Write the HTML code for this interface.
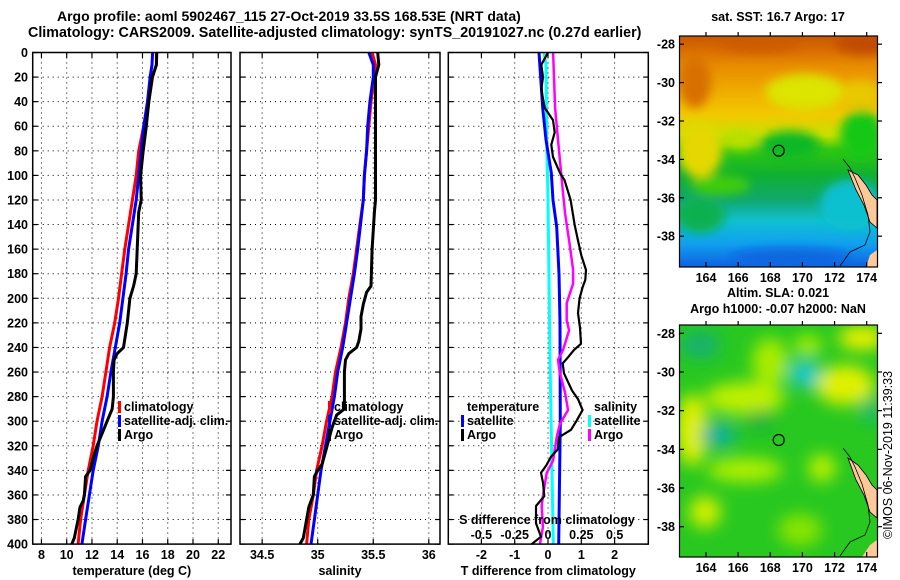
<!DOCTYPE html>
<html><head><meta charset="utf-8">
<style>
html,body{margin:0;padding:0;background:#fff;}
svg{display:block;font-family:"Liberation Sans",Arial,sans-serif;font-weight:bold;}
text{font-size:12.5px;fill:#000;}
</style></head>
<body>
<svg id="fig" width="900" height="580" viewBox="0 0 900 580" xmlns="http://www.w3.org/2000/svg">
<defs>
  <filter id="blur1" x="-30%" y="-30%" width="160%" height="160%"><feGaussianBlur stdDeviation="5"/></filter>
  <filter id="blur2" x="-40%" y="-40%" width="180%" height="180%"><feGaussianBlur stdDeviation="8"/></filter>
  <clipPath id="clipM1"><rect x="679.5" y="36" width="198" height="231"/></clipPath>
  <clipPath id="clipM2"><rect x="679.5" y="325" width="198" height="232"/></clipPath>
  <linearGradient id="sstGrad" x1="0" y1="0" x2="0" y2="1">
    <stop offset="0" stop-color="#c85800"/>
    <stop offset="0.06" stop-color="#d86c00"/>
    <stop offset="0.125" stop-color="#e88a00"/>
    <stop offset="0.25" stop-color="#f0b000"/>
    <stop offset="0.34" stop-color="#f2c800"/>
    <stop offset="0.43" stop-color="#c8e000"/>
    <stop offset="0.49" stop-color="#30c810"/>
    <stop offset="0.6" stop-color="#10b030"/>
    <stop offset="0.71" stop-color="#10a870"/>
    <stop offset="0.8" stop-color="#10c0d0"/>
    <stop offset="0.9" stop-color="#10a0f0"/>
    <stop offset="1" stop-color="#1060e0"/>
  </linearGradient>
</defs>

<text x="57" y="21" style="font-size:14px">Argo profile: aoml 5902467_115 27-Oct-2019 33.5S 168.53E (NRT data)</text>
<text x="28" y="37" style="font-size:14.3px">Climatology: CARS2009. Satellite-adjusted climatology: synTS_20191027.nc (0.27d earlier)</text>

<g id="panels"></g>

<!-- Map 1 SST -->
<g>
  <text x="778" y="21" text-anchor="middle">sat. SST: 16.7 Argo: 17</text>
  <g clip-path="url(#clipM1)">
    <rect x="679.5" y="36" width="198" height="231" fill="url(#sstGrad)"/>
    <g filter="url(#blur1)">
      <ellipse cx="695" cy="82" rx="16" ry="26" fill="#d87000"/>
      <ellipse cx="865" cy="44" rx="30" ry="10" fill="#c04c00"/>
      <ellipse cx="760" cy="44" rx="40" ry="8" fill="#cc5c00"/>
      <ellipse cx="805" cy="92" rx="40" ry="18" fill="#dce400"/>
      <ellipse cx="860" cy="95" rx="20" ry="14" fill="#e8c800"/>
      <ellipse cx="862" cy="135" rx="22" ry="25" fill="#18c818"/>
      <ellipse cx="700" cy="150" rx="22" ry="28" fill="#e4d800"/>
      <ellipse cx="740" cy="140" rx="18" ry="10" fill="#b8e000"/>
      <ellipse cx="790" cy="145" rx="30" ry="14" fill="#10b828"/>
      <ellipse cx="720" cy="185" rx="30" ry="10" fill="#40cc10"/>
      <ellipse cx="700" cy="215" rx="25" ry="18" fill="#10b050"/>
      <ellipse cx="850" cy="205" rx="30" ry="25" fill="#10c0d0"/>
      <ellipse cx="790" cy="258" rx="60" ry="10" fill="#1068e0"/>
    </g>
    <polygon points="848,170 858,175 866,185 872,195 877,200 877,228 870,222 864,205 856,190" fill="#ffc898" stroke="#000" stroke-width="0.8"/>
    <polygon points="870,255 877,250 877,267 866,267" fill="#ffc898"/>
    <polyline points="843,159 850,168 855,178 862,195 868,215 870,232 865,245 850,252 840,266" fill="none" stroke="#000" stroke-width="0.8"/>
    <circle cx="778.7" cy="150.7" r="5.5" fill="none" stroke="#000" stroke-width="1.2"/>
  </g>
  <rect x="679.5" y="36" width="198" height="231" fill="none" stroke="#000" stroke-width="1.2"/>
  <g id="map1axes"></g>
</g>

<!-- Map 2 SLA -->
<g>
  <text x="778" y="297" text-anchor="middle">Altim. SLA: 0.021</text>
  <text x="778" y="313" text-anchor="middle">Argo h1000: -0.07 h2000: NaN</text>
  <g clip-path="url(#clipM2)">
    <rect x="679.5" y="325" width="198" height="232" fill="#28c820"/>
    <g filter="url(#blur2)">
      <ellipse cx="692" cy="430" rx="16" ry="36" fill="#e0f000"/>
      <ellipse cx="745" cy="398" rx="40" ry="16" fill="#c0f000"/>
      <ellipse cx="770" cy="362" rx="18" ry="24" fill="#a8ec00"/>
      <ellipse cx="845" cy="385" rx="30" ry="20" fill="#e0f000"/>
      <ellipse cx="862" cy="338" rx="24" ry="12" fill="#ecf000"/>
      <ellipse cx="745" cy="470" rx="38" ry="12" fill="#b0f000"/>
      <ellipse cx="705" cy="512" rx="16" ry="16" fill="#d0f000"/>
      <ellipse cx="808" cy="345" rx="14" ry="10" fill="#a8f000"/>
      <ellipse cx="822" cy="468" rx="14" ry="14" fill="#b8f000"/>
      <ellipse cx="800" cy="530" rx="22" ry="16" fill="#88e400"/>
      <ellipse cx="805" cy="374" rx="16" ry="14" fill="#10c8c8"/>
      <ellipse cx="718" cy="435" rx="18" ry="12" fill="#10b0a0"/>
      <ellipse cx="700" cy="345" rx="20" ry="14" fill="#18b070"/>
      <ellipse cx="870" cy="410" rx="8" ry="14" fill="#18b880"/>
      <ellipse cx="760" cy="420" rx="14" ry="10" fill="#18b040"/>
    </g>
    <polygon points="848,458 858,465 866,475 872,485 877,490 877,518 870,512 864,495 856,480" fill="#ffc898" stroke="#000" stroke-width="0.8"/>
    <polygon points="870,545 877,540 877,557 862,557" fill="#ffc898"/>
    <polyline points="843,448 850,457 855,467 862,484 868,505 870,522 865,535 850,542 840,556" fill="none" stroke="#000" stroke-width="0.8"/>
    <circle cx="778.7" cy="440" r="5.5" fill="none" stroke="#000" stroke-width="1.2"/>
  </g>
  <rect x="679.5" y="325" width="198" height="232" fill="none" stroke="#000" stroke-width="1.2"/>
  <g id="map2axes"></g>
</g>
<text transform="translate(892,455) rotate(-90)" text-anchor="middle" style="font-weight:normal;font-size:12.5px">©IMOS 06-Nov-2019 11:39:33</text>
</svg>

<script>
const depthTicks = [0,20,40,60,80,100,120,140,160,180,200,220,240,260,280,300,320,340,360,380,400];
const tempTicks = [8,10,12,14,16,18,20,22];
const salTicks = [34.5,35,35.5,36];
const tdiffTicks = [-2,-1,0,1,2];
const sdiffTicks = [-0.5,-0.25,0,0.25,0.5];
const sdiffTickLabels = ["-0.5","-0.25","0","0.25","0.5"];

const climTDepth = [0,10,20,40,60,80,100,120,140,160,180,200,220,240,260,280,300,320,340,360,380,400];
const climT = [17.1,17.1,16.8,16.5,16.1,15.7,15.5,15.2,14.9,14.6,14.35,14.1,13.8,13.4,13.1,12.8,12.4,12.1,11.7,11.4,11.1,10.9];
const satTDepth = [0,10,20,40,60,80,100,120,140,160,180,200,220,240,260,280,300,320,340,360,380,400];
const satT = [16.8,16.75,16.6,16.4,16.1,15.9,15.7,15.5,15.2,14.9,14.7,14.45,14.2,13.85,13.5,13.2,12.8,12.5,12.1,11.8,11.5,11.2];
const argoTDepth = [0,10,20,40,60,80,100,120,130,180,190,200,220,240,245,250,260,280,290,300,310,320,330,340,345,360,365,370,380,395,400];
const argoT = [17.13,17.1,16.77,16.5,16.3,16.06,15.85,15.9,15.7,15.5,15.3,15.0,14.8,14.5,14.0,13.75,13.7,13.7,13.6,13.2,12.8,12.4,12.1,11.85,11.5,11.4,11.3,11.05,10.9,10.6,10.4];

const climSDepth = [0,10,20,40,60,80,100,120,140,160,180,200,220,240,260,280,300,320,340,360,380,400];
const climS = [35.49,35.52,35.51,35.48,35.46,35.44,35.42,35.41,35.38,35.35,35.32,35.28,35.25,35.21,35.16,35.13,35.08,35.04,34.99,34.96,34.92,34.9];
const satSDepth = [0,10,20,40,60,80,100,120,140,160,180,200,220,240,260,280,300,320,340,360,380,400];
const satS = [35.46,35.5,35.5,35.47,35.45,35.44,35.42,35.41,35.385,35.36,35.33,35.295,35.26,35.225,35.18,35.15,35.11,35.07,35.03,35.0,34.97,34.94];
const argoSDepth = [0,10,20,100,120,130,160,190,195,205,215,225,235,240,245,250,260,290,295,305,315,325,335,340,345,360,370,380,395,400];
const argoS = [35.54,35.55,35.52,35.52,35.52,35.51,35.49,35.48,35.44,35.41,35.39,35.39,35.37,35.35,35.28,35.25,35.24,35.24,35.17,35.13,35.1,35.07,35.04,35.0,34.97,34.96,34.92,34.9,34.87,34.84];

const satTdDepth = [0,45,71,98,120,142,180,220,300,400];
const satTd = [-0.27,-0.16,-0.06,0.1,0.15,0.26,0.33,0.36,0.37,0.32];
const argoTdDepth = [0,10,20,30,45,55,65,75,85,98,104,120,140,153,165,177,185,191,200,212,224,237,242,248,253,261,275,282,291,300,307,313,323,329,336,342,350,361,369,383,394,400];
const argoTd = [0,-0.2,-0.15,-0.2,-0.1,0.15,0.2,0.1,0.15,0.36,0.5,0.68,0.8,0.9,1.0,1.14,1.12,1.04,0.95,0.9,0.96,0.99,0.78,0.6,0.44,0.48,0.72,0.9,1.04,0.85,0.69,0.33,0.29,0.09,-0.05,-0.21,-0.15,-0.11,-0.36,-0.36,-0.21,-0.49];
const satSdDepth = [0,10,71,120,250,400];
const satSd = [-0.03,-0.015,-0.01,0.0,0.015,0.04];
const argoSdDepth = [0,45,71,115,131,158,177,188,204,218,226,242,250,261,277,291,302,313,332,342,361,369,386,400];
const argoSd = [0.038,0.053,0.075,0.113,0.128,0.165,0.188,0.188,0.14,0.14,0.158,0.113,0.075,0.09,0.128,0.15,0.09,0.065,0.038,-0.01,-0.038,-0.047,-0.038,-0.06];

const lonTicks = [164,166,168,170,172,174];
const latTicks = [-28,-30,-32,-34,-36,-38];

const NS = "http://www.w3.org/2000/svg";
function mk(tag, attrs, parent){ const e=document.createElementNS(NS,tag); for(const k in attrs) e.setAttribute(k,attrs[k]); parent.appendChild(e); return e; }

const TOP=52.5, PXM=1.229;
const yD = d => TOP + d*PXM;
const xT = t => 66.7 + (t-10)*12.63;
const xS = s => 317.7 + (s-35)*111.1;
const xTd = t => 548 + t*33.3;
const xSd = s => 548 + s*133.3;

const panels = document.getElementById('panels');
const panelDefs = [
  {name:'temperature-panel', x0:32.7, x1:231, ticks:tempTicks, sx:xT, title:'temperature (deg C)'},
  {name:'salinity-panel', x0:240, x1:440, ticks:salTicks, sx:xS, title:'salinity'},
  {name:'difference-panel', x0:448.3, x1:648.3, ticks:tdiffTicks, sx:xTd, title:'T difference from climatology'}
];

function stepPath(depths, vals, sx){
  let d='';
  for(let i=0;i<depths.length;i++){
    d += (i?'L':'M') + sx(vals[i]).toFixed(1) + ',' + yD(depths[i]).toFixed(1);
  }
  return d;
}

panelDefs.forEach((p, pi) => {
  const g = mk('g',{},panels);
  
  
  const y0=yD(0), y1=yD(400);
  const grid = mk('g',{stroke:'#000','stroke-width':1,'stroke-dasharray':'1,4'},g);
  
  
  depthTicks.forEach(d => { if(d>0 && d<400) mk('line',{x1:p.x0,x2:p.x1,y1:yD(d),y2:yD(d)},grid); });
  p.ticks.forEach(t => mk('line',{x1:p.sx(t),x2:p.sx(t),y1:y0,y2:y1},grid));
  const tk = mk('g',{stroke:'#000','stroke-width':1.2},g);
  depthTicks.forEach(d => { mk('line',{x1:p.x0,x2:p.x0+5,y1:yD(d),y2:yD(d)},tk); mk('line',{x1:p.x1-5,x2:p.x1,y1:yD(d),y2:yD(d)},tk); });
  p.ticks.forEach(t => { mk('line',{x1:p.sx(t),x2:p.sx(t),y1:y1,y2:y1-5},tk); mk('line',{x1:p.sx(t),x2:p.sx(t),y1:y0,y2:y0+5},tk); });
  p.ticks.forEach(t => {
    const tx = mk('text',{x:p.sx(t),y:559,'text-anchor':'middle'},g);
    tx.textContent = String(t);
    
    
  });
  const ti = mk('text',{x:(p.x0+p.x1)/2,y:575,'text-anchor':'middle'},g);
  ti.textContent = p.title;
  
  
  if(pi===0){
    depthTicks.forEach(d => {
      const tx = mk('text',{x:28,y:yD(d)+4.5,'text-anchor':'end'},g);
      tx.textContent = String(d);
      
      
    });
  }
  p.g = g;
});

function series(g, depths, vals, sx, color, w, name){
  const el = mk('path',{d:stepPath(depths,vals,sx),fill:'none',stroke:color,'stroke-width':w,'stroke-linejoin':'round'},g);
  
  
}
const g1=panelDefs[0].g, g2=panelDefs[1].g, g3=panelDefs[2].g;
series(g1, climTDepth, climT, xT, '#ff0000', 3, 'climatology-temperature-line');
series(g1, satTDepth, satT, xT, '#0000ff', 3, 'satellite-temperature-line');
series(g1, argoTDepth, argoT, xT, '#000000', 3, 'argo-temperature-line');
series(g2, climSDepth, climS, xS, '#ff0000', 3, 'climatology-salinity-line');
series(g2, satSDepth, satS, xS, '#0000ff', 3, 'satellite-salinity-line');
series(g2, argoSDepth, argoS, xS, '#000000', 3, 'argo-salinity-line');
series(g3, satSdDepth, satSd, xSd, '#00ffff', 3, 'satellite-salinity-diff-line');
series(g3, satTdDepth, satTd, xTd, '#0000ff', 3, 'satellite-temperature-diff-line');
series(g3, argoSdDepth, argoSd, xSd, '#ff00ff', 2.5, 'argo-salinity-diff-line');
series(g3, argoTdDepth, argoTd, xTd, '#000000', 2.2, 'argo-temperature-diff-line');

const sl = mk('text',{x:547,y:524,'text-anchor':'middle'},g3);
sl.textContent = 'S difference from climatology';


sdiffTicks.forEach((s,i) => {
  const t = mk('text',{x:xSd(s),y:539,'text-anchor':'middle'},g3);
  t.textContent = sdiffTickLabels[i];
  
  
});

panelDefs.forEach(p => {
  mk('rect',{x:p.x0,y:yD(0),width:p.x1-p.x0,height:yD(400)-yD(0),fill:'none',stroke:'#000','stroke-width':1.5},p.g);
});

function legend(g, x, y, color, label, name){
  const lg = mk('g',{},g);
  
  
  if(color) mk('rect',{x:x-6,y:y-10,width:3,height:12,fill:color},lg);
  const t = mk('text',{x:x,y:y},lg);
  t.textContent = label;
}
legend(g1,124,411,'#ff0000','climatology','legend-entry-climatology');
legend(g1,124,425,'#0000ff','satellite-adj. clim.','legend-entry-satellite');
legend(g1,124,439,'#000000','Argo','legend-entry-argo');
legend(g2,334,411,'#ff0000','climatology','legend-entry-climatology');
legend(g2,334,425,'#0000ff','satellite-adj. clim.','legend-entry-satellite');
legend(g2,334,439,'#000000','Argo','legend-entry-argo');
legend(g3,467,411,null,'temperature','legend-header-temperature');
legend(g3,467,425,'#0000ff','satellite','legend-entry-satellite-temperature');
legend(g3,467,439,'#000000','Argo','legend-entry-argo-temperature');
legend(g3,594,411,null,'salinity','legend-header-salinity');
legend(g3,594,425,'#00ffff','satellite','legend-entry-satellite-salinity');
legend(g3,594,439,'#ff00ff','Argo','legend-entry-argo-salinity');

function mapAxes(id, top, bottom, lat28y, pxDeg){
  const g = document.getElementById(id);
  const lonX = lon => 706 + (lon-164)*16.07;
  const latY = lat => lat28y + (-28-lat)*pxDeg;
  lonTicks.forEach(l => {
    mk('line',{x1:lonX(l),x2:lonX(l),y1:bottom,y2:bottom-5,stroke:'#000','stroke-width':1.2},g);
    mk('line',{x1:lonX(l),x2:lonX(l),y1:top,y2:top-4,stroke:'#000','stroke-width':1.2},g);
    const t = mk('text',{x:lonX(l),y:bottom+15,'text-anchor':'middle'},g);
    t.textContent = String(l);
    
    
  });
  latTicks.forEach(l => {
    mk('line',{x1:877.5,x2:882,y1:latY(l),y2:latY(l),stroke:'#000','stroke-width':1.2},g);
    mk('line',{x1:679.5,x2:684,y1:latY(l),y2:latY(l),stroke:'#000','stroke-width':1.2},g);
    const t = mk('text',{x:675,y:latY(l)+4.5,'text-anchor':'end'},g);
    t.textContent = String(l);
    
    
  });
}
mapAxes('map1axes', 36, 267, 44.2, 19.2);
mapAxes('map2axes', 325, 557, 333.3, 19.34);
</script>
</body></html>
